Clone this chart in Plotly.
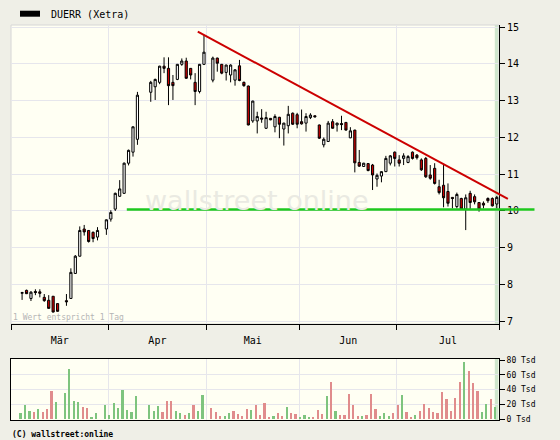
import plotly.graph_objects as go

# ---------------- data ----------------
# trading-day slot (0 = Mon 2 Mar 2009, one slot per weekday)
slots = [2, 3, 4, 5, 6, 7, 8, 9, 10,
         12, 13, 14, 15, 16, 17, 18, 19,
         21, 22, 23, 24, 25, 26, 27, 28,
         31, 32, 33, 34, 35, 36, 37, 38, 39, 40, 41, 42, 43,
         45, 46, 47, 48, 49, 50, 51, 52, 53, 54, 55, 56, 57, 58, 59, 60,
         61, 62, 63, 64, 65, 66, 67, 68, 69, 70, 71, 72, 73, 74, 75, 76, 77, 78, 79, 80,
         81, 82, 83, 84, 85, 86, 87, 88, 89, 90, 91, 92, 93, 94, 95, 96, 97, 98, 99, 100,
         101, 102, 103, 104, 105, 106, 107, 108, 109]

opens = [7.76, 7.84, 7.62, 7.81, 7.80, 7.65, 7.57, 7.68, 7.48,
         7.56, 7.62, 8.30, 8.77, 9.51, 9.47, 9.42, 9.29,
         9.51, 9.78, 10.05, 10.40, 10.48, 11.30, 11.60, 11.95,
         13.23, 13.38, 13.50, 13.94, 13.88, 13.50, 13.58, 13.99, 14.08, 13.88, 13.50, 13.25, 13.99,
         13.56, 14.16, 13.99, 13.77, 13.70, 13.56, 13.95, 13.50, 13.40, 12.45, 12.45, 12.53, 12.25, 12.52, 12.29, 12.55,
         12.23, 12.32, 12.66, 12.62, 12.43, 12.39, 12.54, 12.59, 12.34, 11.80, 11.89, 12.43, 12.34, 12.38, 12.41, 11.99, 12.20, 11.32, 11.21, 11.29,
         11.25, 10.87, 10.95, 11.07, 11.30, 11.60, 11.39, 11.43, 11.32, 11.60, 11.52, 11.39, 11.43, 10.98, 11.16, 10.66, 10.70, 10.53, 10.37, 10.12,
         10.34, 10.05, 10.48, 10.39, 10.23, 10.21, 10.34, 10.34, 10.19]

highs = [7.80, 7.86, 7.82, 7.87, 7.87, 7.74, 7.71, 7.68, 7.48,
         7.74, 8.44, 8.80, 9.58, 9.62, 9.48, 9.44, 9.56,
         9.77, 10.02, 10.50, 10.84, 11.32, 11.67, 12.30, 13.24,
         13.54, 13.60, 13.95, 14.18, 14.18, 13.70, 14.00, 14.15, 14.17, 13.89, 13.75, 14.00, 14.79,
         14.20, 14.17, 14.00, 13.98, 13.99, 13.86, 14.11, 13.52, 13.41, 13.00, 12.70, 12.77, 12.70, 12.53, 12.63, 12.56,
         12.40, 12.86, 12.68, 12.67, 12.76, 12.66, 12.66, 12.60, 12.35, 12.00, 12.45, 12.50, 12.40, 12.59, 12.42, 12.28, 12.21, 11.66, 11.31, 11.30,
         11.28, 11.02, 11.08, 11.50, 11.52, 11.62, 11.52, 11.57, 11.52, 11.62, 11.55, 11.43, 11.47, 11.25, 11.30, 10.85, 11.25, 10.75, 10.38, 10.50,
         10.36, 10.45, 10.55, 10.45, 10.24, 10.26, 10.37, 10.37, 10.41]

lows = [7.58, 7.74, 7.55, 7.71, 7.65, 7.53, 7.35, 7.24, 7.26,
        7.42, 7.62, 8.29, 8.76, 9.33, 9.14, 9.15, 9.20,
        9.35, 9.71, 10.00, 10.38, 10.47, 11.24, 11.48, 11.80,
        12.97, 13.02, 13.45, 13.75, 12.88, 13.02, 13.56, 13.95, 13.60, 13.58, 12.88, 13.20, 13.97,
        13.50, 13.79, 13.72, 13.55, 13.50, 13.41, 13.53, 13.38, 12.33, 12.40, 12.11, 12.40, 12.23, 12.47, 12.14, 11.98,
        11.78, 12.11, 12.34, 12.25, 12.35, 12.16, 12.50, 12.55, 11.96, 11.73, 11.88, 12.24, 12.16, 12.20, 12.19, 11.98, 11.05, 11.20, 11.20, 11.08,
        10.57, 10.66, 10.78, 11.06, 11.24, 11.21, 11.21, 11.25, 11.30, 11.40, 11.40, 11.09, 10.90, 10.85, 10.72, 10.45, 10.10, 10.12, 10.07, 10.07,
        10.04, 9.48, 10.05, 10.18, 9.98, 10.07, 10.22, 10.12, 10.07]

closes = [7.78, 7.75, 7.79, 7.78, 7.76, 7.56, 7.35, 7.25, 7.27,
          7.53, 8.33, 8.77, 9.47, 9.43, 9.17, 9.25, 9.47,
          9.76, 9.96, 10.48, 10.60, 11.30, 11.65, 12.29, 13.15,
          13.50, 13.58, 13.94, 13.88, 13.41, 13.41, 13.99, 14.08, 13.61, 13.70, 13.25, 13.99, 14.32,
          14.16, 14.02, 13.75, 13.97, 13.97, 13.84, 13.55, 13.41, 12.34, 12.99, 12.57, 12.50, 12.54, 12.48, 12.57, 12.36,
          12.39, 12.63, 12.36, 12.36, 12.37, 12.57, 12.61, 12.56, 11.98, 11.95, 12.39, 12.25, 12.39, 12.35, 12.20, 12.18, 11.31, 11.22, 11.30, 11.10,
          10.98, 10.97, 11.07, 11.43, 11.50, 11.43, 11.30, 11.50, 11.48, 11.43, 11.45, 11.12, 10.93, 10.89, 10.75, 10.50, 10.36, 10.21, 10.34, 10.45,
          10.05, 10.36, 10.23, 10.25, 10.05, 10.16, 10.28, 10.14, 10.37]

# volume in thousands of shares
volumes = [8, 19, 11, 9.5, 13.5, 9.5, 13.5, 38, 23,
           35, 68, 24, 23, 16, 15, 3, 8,
           19, 5.5, 22, 15, 39, 12, 9.5, 31,
           19, 11, 17.5, 9.5, 24, 24, 11, 8, 5.5, 8, 19, 11, 32.5,
           15, 9.5, 4, 4, 8, 11, 7, 4, 13.5, 12, 19, 5.5, 22, 1.5, 4, 8,
           4, 16, 8, 7, 1.5, 5.5, 3, 3, 12, 7, 31, 50, 11, 5.5, 5.5, 34, 19, 4, 4, 5.5,
           34, 13.5, 4, 8, 4, 8, 19, 32.5, 9.5, 3, 5.5, 11, 20, 15, 9.5, 8, 36.5, 27, 11, 28.5,
           50, 77, 65, 49, 38, 9.5, 20, 27, 16]

# volume bar colour: 1 = up day (green), 0 = down day (red)
vol_up = [1, 1, 1, 0, 1, 0, 0, 0, 1,
          1, 1, 1, 1, 0, 0, 1, 1,
          1, 1, 1, 1, 1, 1, 1, 1,
          1, 1, 1, 0, 0, 0, 1, 1, 0, 1, 0, 1, 1,
          0, 0, 0, 1, 1, 0, 0, 0, 0, 1, 0, 0, 0, 0, 1, 0,
          0, 1, 0, 0, 1, 1, 1, 0, 0, 0, 1, 0, 1, 0, 0, 0, 0, 0, 1, 0,
          0, 0, 1, 1, 1, 0, 0, 1, 0, 0, 1, 0, 0, 0, 0, 0, 0, 0, 0, 0,
          0, 1, 0, 0, 0, 1, 1, 0, 1]

month_names = ["Mär", "Apr", "Mai", "Jun", "Jul"]
month_start_slot = [0, 22, 44, 65, 87, 110]   # first weekday slot of each month (+ end)

price_ticks = [7, 8, 9, 10, 11, 12, 13, 14, 15]
vol_ticks = [0, 20, 40, 60, 80]
vol_tick_labels = [f"{v} Tsd" for v in vol_ticks]

# drawn trend lines (slot, price)
resistance = [(41.6, 14.88), (111.5, 10.33)]
support_level = 10.04
support_span = (25.6, 117.5)

title_text = "DUERR (Xetra)"

# ---------------- styling ----------------
PAPER = "#efefe7"
PLOT = "#fffff3"
GRID = "#e6e6ec"
MONO = "DejaVu Sans Mono"
UP_VOL = "#7ec47e"
DN_VOL = "#e08c8c"

X_RANGE = [-0.5, 109.5]
Y_RANGE = [6.925, 15.06]
V_RANGE = [-1.36, 81.36]

W, H = 560, 440
L_M, T_M, B_M = 11, 25, 20
W_PLOT = 488
PLOT_H = H - T_M - B_M
PRICE_BOTTOM_PX = 324
VOL_TOP_PX = 359

month_bounds = [s - 0.5 for s in month_start_slot]
month_mids = [(month_bounds[i] + month_bounds[i + 1]) / 2 for i in range(len(month_names))]


def xd(s):
    return (s - X_RANGE[0]) / (X_RANGE[1] - X_RANGE[0])


def yd(p):
    return (p - Y_RANGE[0]) / (Y_RANGE[1] - Y_RANGE[0])


def px(xp):
    return (xp - L_M) / W_PLOT


def py(yp):
    return (H - B_M - yp) / PLOT_H


fig = go.Figure()

fig.add_trace(go.Candlestick(
    x=slots, open=opens, high=highs, low=lows, close=closes,
    xaxis="x", yaxis="y",
    increasing=dict(fillcolor="white", line=dict(color="black", width=1)),
    decreasing=dict(fillcolor="#cc0000", line=dict(color="black", width=1)),
    whiskerwidth=0, showlegend=False, name=title_text,
))

fig.add_trace(go.Bar(
    x=slots, y=volumes, xaxis="x2", yaxis="y2",
    marker=dict(color=[UP_VOL if u else DN_VOL for u in vol_up], line=dict(width=0)),
    width=0.5, offset=-0.6, showlegend=False,
))

shapes = []
# last-day highlight band (both panels)
last = slots[-1]
for yr in ("y domain", "y2 domain"):
    shapes.append(dict(type="rect", xref="x", yref=yr, x0=last - 0.45, x1=last + 0.35,
                       y0=0, y1=1, fillcolor="#cfe6cc", line=dict(width=0), layer="below"))
# light frame around price panel
shapes.append(dict(type="rect", xref="x domain", yref="y domain", x0=0, x1=1, y0=0, y1=1,
                   line=dict(color="#d6d6d6", width=1), layer="below"))
# resistance line (red)
shapes.append(dict(type="line", xref="x domain", yref="y domain",
                   x0=xd(resistance[0][0]), y0=yd(resistance[0][1]),
                   x1=xd(resistance[1][0]), y1=yd(resistance[1][1]),
                   line=dict(color="#cc0000", width=2)))
# support line (green)
shapes.append(dict(type="line", xref="x domain", yref="y domain",
                   x0=xd(support_span[0]), y0=yd(support_level),
                   x1=xd(support_span[1]), y1=yd(support_level),
                   line=dict(color="#1ec81e", width=2.5)))
# legend swatch
shapes.append(dict(type="rect", xref="paper", yref="paper",
                   x0=px(20), x1=px(40), y0=py(16.7), y1=py(10.7),
                   fillcolor="black", line=dict(width=0)))

annotations = [
    dict(text=title_text, xref="paper", yref="paper", x=px(49), y=py(14.5),
         xanchor="left", yanchor="middle", showarrow=False,
         font=dict(family=MONO, size=10, color="black")),
    dict(text="wallstreet online", xref="paper", yref="paper", x=px(257), y=py(200),
         xanchor="center", yanchor="middle", showarrow=False,
         font=dict(family="DejaVu Sans", size=27, color="#eaeae2")),
    dict(text="1 Wert entspricht 1 Tag", xref="paper", yref="paper", x=px(11), y=py(317.5),
         xanchor="left", yanchor="middle", showarrow=False,
         font=dict(family=MONO, size=8, color="#b5b5b5")),
    dict(text="<b>(C) wallstreet:online</b>", xref="paper", yref="paper", x=px(10), y=py(434),
         xanchor="left", yanchor="middle", showarrow=False,
         font=dict(family=MONO, size=8, color="black")),
]

fig.update_layout(
    width=W, height=H,
    margin=dict(l=L_M, r=W - L_M - W_PLOT, t=T_M, b=B_M, autoexpand=False),
    paper_bgcolor=PAPER, plot_bgcolor=PLOT,
    shapes=shapes, annotations=annotations, showlegend=False,
    bargap=0,
    xaxis=dict(
        domain=[0, 1], anchor="y", range=X_RANGE, rangeslider=dict(visible=False),
        tickmode="array", tickvals=month_mids, ticktext=month_names, ticks="",
        ticklabelstandoff=7,
        showgrid=False, zeroline=False, showline=True, linecolor="black", linewidth=1,
        tickfont=dict(family=MONO, size=10, color="black"),
        minor=dict(tickmode="array", tickvals=month_bounds, ticks="outside", ticklen=5,
                   tickcolor="black", tickwidth=1, showgrid=True, gridcolor=GRID, gridwidth=1),
    ),
    yaxis=dict(
        domain=[py(PRICE_BOTTOM_PX), 1],
        anchor="x", side="right", range=Y_RANGE,
        tickmode="array", tickvals=price_ticks, ticks="outside", ticklen=5, tickcolor="black",
        showgrid=True, gridcolor=GRID, zeroline=False, showline=True, linecolor="black",
        tickfont=dict(family=MONO, size=10, color="black"),
    ),
    xaxis2=dict(
        domain=[0, 1], anchor="y2", range=X_RANGE, matches="x",
        tickmode="array", tickvals=month_mids, showticklabels=False, ticks="",
        showgrid=False, zeroline=False, showline=True, mirror=True, linecolor="black",
        minor=dict(tickmode="array", tickvals=month_bounds, ticks="", showgrid=True,
                   gridcolor=GRID, gridwidth=1),
    ),
    yaxis2=dict(
        domain=[0, py(VOL_TOP_PX)], anchor="x2", side="right", range=V_RANGE,
        tickmode="array", tickvals=vol_ticks, ticktext=vol_tick_labels,
        ticks="outside", ticklen=5, tickcolor="black",
        showgrid=True, gridcolor=GRID, zeroline=False, showline=True, mirror=True,
        linecolor="black", tickfont=dict(family=MONO, size=8, color="black"),
    ),
)

fig.write_html(
    "out.html",
    config={"displayModeBar": False},
    post_script="document.body.style.margin='0';document.body.style.padding='0';"
                "document.body.style.background='" + PAPER + "';",
)
